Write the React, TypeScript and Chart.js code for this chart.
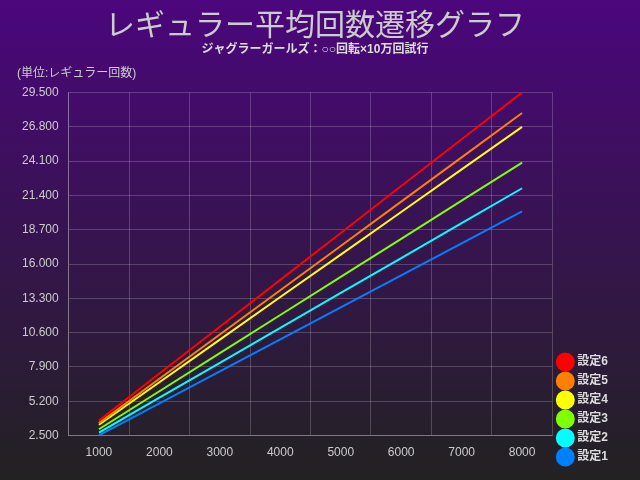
import React, { useEffect, useRef } from "react";
import { Chart, registerables } from "chart.js";
Chart.register(...registerables);

const categories = ["1000", "2000", "3000", "4000", "5000", "6000", "7000", "8000"];
const s6 = [3.69, 7.38, 11.06, 14.75, 18.44, 22.13, 25.81, 29.5];
const s5 = [3.48, 6.97, 10.45, 13.94, 17.42, 20.91, 24.39, 27.88];
const s4 = [3.35, 6.7, 10.05, 13.4, 16.74, 20.09, 23.44, 26.79];
const s3 = [3.0, 5.99, 8.99, 11.99, 14.98, 17.98, 20.98, 23.97];
const s2 = [2.74, 5.49, 8.23, 10.98, 13.72, 16.47, 19.21, 21.96];
const s1 = [2.52, 5.04, 7.55, 10.07, 12.59, 15.11, 17.62, 20.14];
const seriesNames = ["設定6", "設定5", "設定4", "設定3", "設定2", "設定1"];
const seriesColors = ["#ff0000", "#ff7f00", "#ffff00", "#7fff00", "#00ffff", "#0080ff"];

export default function App() {
  const ref = useRef<HTMLCanvasElement>(null);
  useEffect(() => {
    const font = "'Liberation Sans', 'Noto Sans CJK JP', sans-serif";
    const jfont = "'Noto Sans CJK JP', sans-serif";
    const bg = {
      id: "bg",
      beforeDraw(c: any) {
        const ctx = c.ctx;
        const g = ctx.createLinearGradient(0, 0, 0, c.height);
        g.addColorStop(0, "#4b067c");
        g.addColorStop(1, "#222222");
        ctx.save();
        ctx.fillStyle = g;
        ctx.fillRect(0, 0, c.width, c.height);
        ctx.restore();
      },
      afterDraw(c: any) {
        const ctx = c.ctx;
        ctx.save();
        ctx.fillStyle = "#cccccc";
        ctx.font = "12px " + font;
        ctx.textBaseline = "bottom";
        ctx.fillText("(単位:レギュラー回数)", 17, 80);
        ctx.restore();
      },
    };
    const data = [s6, s5, s4, s3, s2, s1];
    const chart = new Chart(ref.current!, {
      type: "line",
      data: {
        labels: categories,
        datasets: data.map((d, i) => ({
          label: seriesNames[i],
          data: d,
          borderColor: seriesColors[i],
          backgroundColor: seriesColors[i],
          borderWidth: 2,
          pointRadius: 0,
          pointStyle: "circle",
        })),
      },
      options: {
        animation: false,
        responsive: false,
        layout: { padding: { left: 12, right: 22, top: 0, bottom: 10 } },
        plugins: {
          title: {
            display: true,
            text: "レギュラー平均回数遷移グラフ",
            color: "#cccccc",
            font: { size: 30, family: jfont, weight: "normal" },
            padding: { top: 6, bottom: 0 },
          },
          subtitle: {
            display: true,
            text: "ジャグラーガールズ：○○回転×10万回試行",
            color: "#dddddd",
            font: { size: 12, family: font, weight: "bold" },
            padding: { top: 0, bottom: 36 },
          },
          legend: {
            position: "right",
            align: "end",
            labels: {
              color: "#dddddd",
              font: { size: 12, family: font, weight: "bold" },
              usePointStyle: true,
              pointStyle: "circle",
              boxWidth: 14,
              boxHeight: 13,
              padding: 7,
            },
          },
          tooltip: { enabled: false },
        },
        scales: {
          x: {
            type: "category",
            offset: true,
            grid: { color: "rgba(255,255,255,0.2)", offset: true, drawTicks: false },
            border: { color: "rgba(255,255,255,0.25)" },
            ticks: { color: "#cccccc", font: { size: 12, family: font }, padding: 10 },
          },
          y: {
            min: 2.5,
            max: 29.5,
            grid: { color: "rgba(255,255,255,0.2)", drawTicks: false },
            border: { color: "rgba(255,255,255,0.25)" },
            ticks: {
              stepSize: 2.7,
              color: "#cccccc",
              font: { size: 12, family: font },
              padding: 10,
              callback: (v: any) => Number(v).toFixed(3),
            },
          },
        },
      },
      plugins: [bg],
    });
    return () => chart.destroy();
  }, []);
  return (
    <div style={{ position: "absolute", left: 0, top: 0, width: 640, height: 480 }}>
      <canvas ref={ref} width={640} height={480} />
    </div>
  );
}
